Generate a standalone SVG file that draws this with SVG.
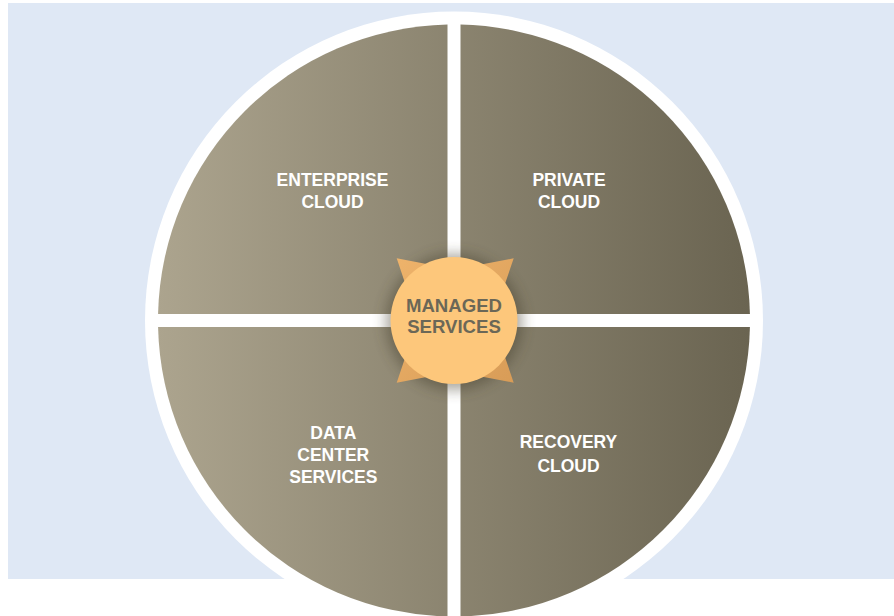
<svg xmlns="http://www.w3.org/2000/svg" width="894" height="616" viewBox="0 0 894 616">
  <style>
    .q { fill: url(#qg); }
    .lbl { font-family: "Liberation Sans", Arial, sans-serif; font-weight: bold; font-size: 17.5px; fill: #ffffff; text-anchor: middle; }
    .center { font-family: "Liberation Sans", Arial, sans-serif; font-weight: bold; font-size: 18.6px; fill: #6b6757; text-anchor: middle; }
  </style>
  <defs>
    <linearGradient id="qg" gradientUnits="userSpaceOnUse" x1="158" y1="0" x2="750" y2="0">
      <stop offset="0" stop-color="#aca48e"/>
      <stop offset="1" stop-color="#6a6451"/>
    </linearGradient>
    <linearGradient id="sg" x1="0" y1="0" x2="1" y2="1">
      <stop offset="0" stop-color="#eeb36b"/>
      <stop offset="1" stop-color="#d89c57"/>
    </linearGradient>
    <filter id="blur" x="-50%" y="-50%" width="200%" height="200%">
      <feGaussianBlur stdDeviation="7"/>
    </filter>
  </defs>

  <rect x="0" y="0" width="894" height="616" fill="#ffffff"/>
  <rect x="8" y="3" width="886" height="576" fill="#dfe8f5"/>
  <circle cx="454" cy="320.5" r="309" fill="#ffffff"/>

  <g id="enterprise-cloud">
    <path class="q" d="M447.5,314 H158.07 A296,296 0 0 1 447.5,24.57 Z"/>
    <text class="lbl" x="332.5" y="186">ENTERPRISE</text>
    <text class="lbl" x="332.5" y="208.3">CLOUD</text>
  </g>
  <g id="private-cloud">
    <path class="q" d="M460.5,314 V24.57 A296,296 0 0 1 749.93,314 Z"/>
    <text class="lbl" x="569" y="186">PRIVATE</text>
    <text class="lbl" x="569" y="208.3">CLOUD</text>
  </g>
  <g id="recovery-cloud">
    <path class="q" d="M460.5,327 H749.93 A296,296 0 0 1 460.5,616.43 Z"/>
    <text class="lbl" x="568.5" y="448.3">RECOVERY</text>
    <text class="lbl" x="568.5" y="471.7">CLOUD</text>
  </g>
  <g id="data-center-services">
    <path class="q" d="M447.5,327 V616.43 A296,296 0 0 1 158.07,327 Z"/>
    <text class="lbl" x="333.3" y="439">DATA</text>
    <text class="lbl" x="333.3" y="460.7">CENTER</text>
    <text class="lbl" x="333.3" y="483.3">SERVICES</text>
  </g>

  <g id="connectors"></g>

  <g id="managed-services">
    <circle cx="454" cy="322" r="68" fill="#3c3828" opacity="0.45" filter="url(#blur)"/>
    <polygon fill="url(#sg)" points="396.7,258.3 455,269.5 513.7,258.3 492.5,320.5 513.7,382.7 455,371.5 396.7,382.7 417.6,320.5"/>
    <circle cx="454" cy="320.5" r="63.5" fill="#fdc77b"/>
    <text class="center" x="454" y="311.7">MANAGED</text>
    <text class="center" x="454" y="332.7">SERVICES</text>
  </g>
</svg>
